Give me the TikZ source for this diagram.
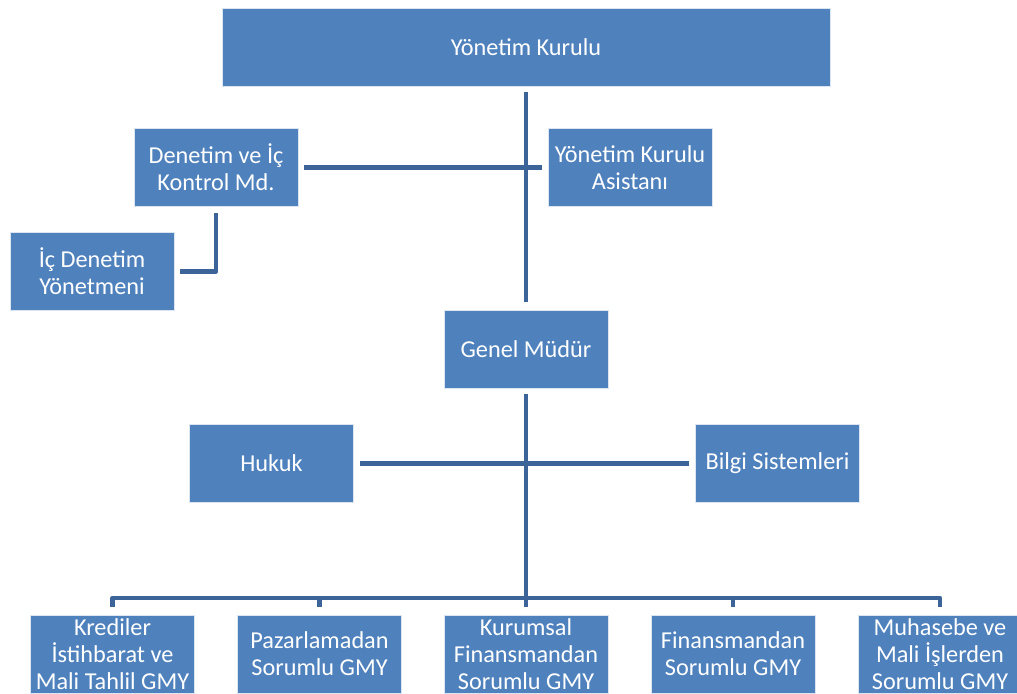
\documentclass[tikz,border=0pt]{standalone}
\usepackage{fontspec}
\setmainfont{Carlito}
\definecolor{boxblue}{RGB}{79,129,189}
\definecolor{lineblue}{RGB}{60,100,152}
\begin{document}
\begin{tikzpicture}[x=0.75pt,y=-0.75pt,
  orgbox/.style={rectangle, fill=boxblue, draw=white!80!boxblue, line width=0.4pt, text=white,
    minimum width=123pt, minimum height=58.5pt, inner sep=0pt, align=center,
    font=\fontsize{18.2}{20.3}\selectfont},
  conn/.style={draw=lineblue, line width=3.6pt, line join=round, shorten <=4.5pt, shorten >=4.5pt}]
\clip (0,0) rectangle (1017,693);
\useasboundingbox (0,0) rectangle (1017,693);
% boxes
\node[orgbox, minimum width=456pt] (yk) at (526,47) {Yönetim Kurulu};
\node[orgbox] (den) at (216,167.5) {Denetim ve İç\\Kontrol Md.};
\node[orgbox] (asist) at (630,167.5) {Yönetim Kurulu\\Asistanı};
\node[orgbox] (ic) at (92,271.5) {İç Denetim\\Yönetmeni};
\node[orgbox] (gm) at (526,349) {Genel Müdür};
\node[orgbox] (hukuk) at (271.5,463.5) {Hukuk};
\node[orgbox] (bilgi) at (777.5,463.5) {Bilgi Sistemleri};
\node[orgbox] (b1) at (112.5,654) {Krediler\\İstihbarat ve\\Mali Tahlil GMY};
\node[orgbox] (b2) at (319.5,654) {Pazarlamadan\\Sorumlu GMY};
\node[orgbox] (b3) at (526,654) {Kurumsal\\Finansmandan\\Sorumlu GMY};
\node[orgbox] (b4) at (733,654) {Finansmandan\\Sorumlu GMY};
\node[orgbox] (b5) at (940,654) {Muhasebe ve\\Mali İşlerden\\Sorumlu GMY};
\coordinate (bus) at (526,598);
% connectors
\draw[conn, shorten >=6pt] (yk.south) -- (gm.north);
\draw[conn] (den.east) -- (asist.west);
\draw[conn, shorten >=4pt] (den.south) |- (ic.east);
\draw[conn, shorten >=0pt] (gm.south) -- (bus);
\draw[conn] (hukuk.east) -- (bilgi.west);
\draw[conn, shorten <=6pt, shorten >=6pt] (b1.north) |- (bus) -| (b5.north);
\draw[conn, shorten <=6pt, shorten >=0pt] (b2.north) -- (b2.north |- bus);
\draw[conn, shorten <=6pt, shorten >=0pt] (b3.north) -- (bus);
\draw[conn, shorten <=6pt, shorten >=0pt] (b4.north) -- (b4.north |- bus);
\end{tikzpicture}
\end{document}
